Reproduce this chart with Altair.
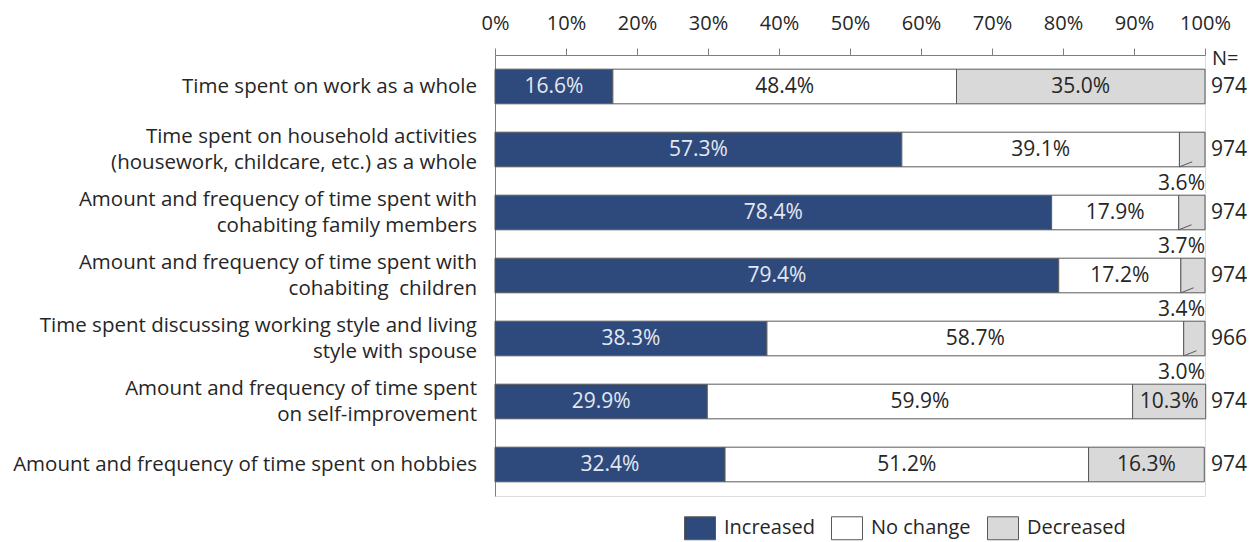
import altair as alt
import pandas as pd

# Survey items (line breaks mark the wrapped label lines)
categories = [
    "Time spent on work as a whole",
    "Time spent on household activities\n(housework, childcare, etc.) as a whole",
    "Amount and frequency of time spent with\ncohabiting family members",
    "Amount and frequency of time spent with\ncohabiting\u00a0 children",
    "Time spent discussing working style and living\nstyle with spouse",
    "Amount and frequency of time spent\non self-improvement",
    "Amount and frequency of time spent on hobbies",
]
increased = [16.6, 57.3, 78.4, 79.4, 38.3, 29.9, 32.4]
no_change = [48.4, 39.1, 17.9, 17.2, 58.7, 59.9, 51.2]
decreased = [35.0, 3.6, 3.7, 3.4, 3.0, 10.3, 16.3]
n_values = [974, 974, 974, 974, 966, 974, 974]

responses = ["Increased", "No change", "Decreased"]
palette = ["#2E4A7D", "#FFFFFF", "#D9D9D9"]
x_ticks = [0, 10, 20, 30, 40, 50, 60, 70, 80, 90, 100]

FONT = "Open Sans"
INK = "#262626"
HALF = 0.275  # half bar thickness in row units

# Build one record per stacked segment
rows = []
for i, cat in enumerate(categories):
    start = 0.0
    for resp, series in zip(responses, [increased, no_change, decreased]):
        v = series[i]
        rows.append({
            "idx": i, "category": cat, "response": resp, "value": v,
            "start": start, "end": start + v, "mid": start + v / 2,
            "top": i - HALF, "bottom": i + HALF,
            "label": f"{v:.1f}%", "small": v < 5,
        })
        start += v
seg = pd.DataFrame(rows)

# Small segments get their value written under the bar with a short leader
small = seg[seg["small"]].copy()
small["lab_y"] = small["idx"] + 0.55
small["lx1"] = small["start"]
small["lx2"] = small["start"] + 1.8
small["ly1"] = small["bottom"]
small["ly2"] = small["bottom"] - 0.08

cats = pd.DataFrame({
    "idx": list(range(len(categories))),
    "category": categories,
    "lines": [c.count("\n") + 1 for c in categories],
    "n": n_values,
})

x_scale = alt.Scale(domain=[0, 100], nice=False, zero=False)
y_scale = alt.Scale(domain=[-0.5, len(categories) - 0.5], reverse=True, nice=False, zero=False)

x_axis = alt.Axis(
    orient="top", values=x_ticks, labelExpr="datum.value + '%'", title=None,
    grid=False, tickSize=7, tickColor="#7F7F7F", domainColor="#7F7F7F",
    labelFontSize=20, labelColor=INK, labelFont=FONT, labelPadding=15,
    labelFlush=False, labelOverlap=False,
)
y_axis = alt.Axis(labels=False, ticks=False, grid=False, title=None, domainColor="#7F7F7F")

base = alt.Chart(seg)

bars = base.mark_rect(stroke="#595959", strokeWidth=1).encode(
    x=alt.X("start:Q", scale=x_scale, axis=x_axis),
    x2="end:Q",
    y=alt.Y("top:Q", scale=y_scale, axis=y_axis),
    y2="bottom:Q",
    color=alt.Color(
        "response:N",
        scale=alt.Scale(domain=responses, range=palette),
        legend=alt.Legend(
            title=None, orient="none", direction="horizontal",
            legendX=189, legendY=457, padding=0,
            symbolType="M-1,-0.74H1V0.74H-1Z", symbolSize=961,
            symbolStrokeColor="#595959", symbolStrokeWidth=1, symbolOpacity=1,
            labelFontSize=20, labelFont=FONT, labelColor=INK,
            labelOffset=8, columnPadding=14,
        ),
    ),
)

inner_dark = base.transform_filter(
    "!datum.small && datum.response != 'Increased'"
).mark_text(font=FONT, fontSize=21, color=INK).encode(
    x="mid:Q", y="idx:Q", text="label:N"
)
inner_light = base.transform_filter(
    "datum.response == 'Increased'"
).mark_text(font=FONT, fontSize=21, color="#E4E8F0").encode(
    x="mid:Q", y="idx:Q", text="label:N"
)

outer = alt.Chart(small).mark_text(
    font=FONT, fontSize=21, color=INK, align="right"
).encode(x="end:Q", y="lab_y:Q", text="label:N")

leaders = alt.Chart(small).mark_rule(color="#595959", strokeWidth=1).encode(
    x="lx1:Q", x2="lx2:Q", y="ly1:Q", y2="ly2:Q"
)

label_style = dict(font=FONT, fontSize=20.5, color=INK, align="right",
                   lineBreak="\n", lineHeight=26, dx=-18)
cat_single = alt.Chart(cats).transform_filter("datum.lines == 1").mark_text(
    **label_style
).encode(x=alt.datum(0), y="idx:Q", text="category:N")
cat_double = alt.Chart(cats).transform_filter("datum.lines == 2").mark_text(
    dy=-13, **label_style
).encode(x=alt.datum(0), y="idx:Q", text="category:N")

n_labels = alt.Chart(cats).mark_text(
    font=FONT, fontSize=21, color=INK, align="left", dx=6,
).encode(x=alt.datum(100), y="idx:Q", text="n:N")

n_header = alt.Chart(cats).transform_filter("datum.idx == 0").mark_text(
    font=FONT, fontSize=20, color=INK, align="left", dx=7, dy=4,
).encode(x=alt.datum(100), y=alt.datum(-0.5), text=alt.value("N="))

chart = alt.layer(
    bars, inner_dark, inner_light, leaders, outer,
    cat_single, cat_double, n_labels, n_header,
).properties(
    width=710, height=441,
    autosize=alt.AutoSizeParams(type="none"),
    padding={"left": 495, "top": 55, "right": 51, "bottom": 46},
).configure_view(stroke=None).configure(background="white")

chart.save("out.html", embed_options={"renderer": "svg", "actions": False})
